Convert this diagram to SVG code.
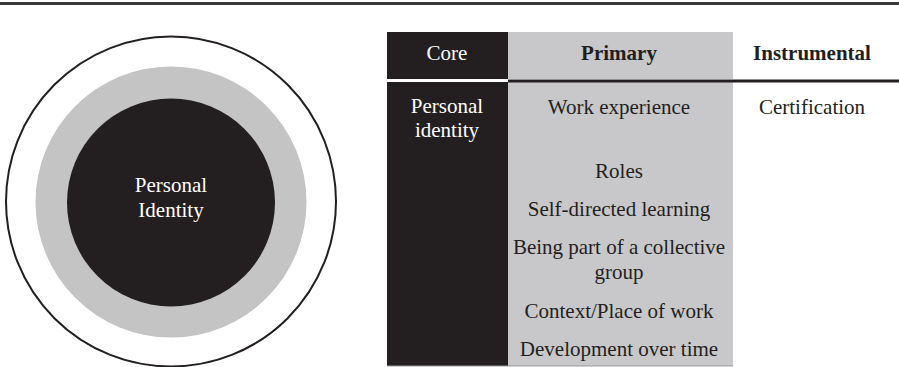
<svg xmlns="http://www.w3.org/2000/svg" width="899" height="367" viewBox="0 0 899 367">
<style>
.t{font-family:"Liberation Serif","Times New Roman",serif;font-size:21px;text-anchor:middle;fill:#231f20}
.w{fill:#ffffff}
.b{font-weight:bold}
</style>
<rect x="0" y="0" width="899" height="367" fill="#ffffff"/>
<rect x="0" y="2" width="899" height="3" fill="#3a3a3a"/>
<g id="circles">
<circle cx="171" cy="201.5" r="165" fill="#ffffff" stroke="#231f20" stroke-width="2"/>
<circle cx="171" cy="202" r="135.5" fill="#c4c4c4"/>
<circle cx="171" cy="202.5" r="104" fill="#231f20"/>
<text class="t w" x="171" y="192">Personal</text>
<text class="t w" x="171" y="217">Identity</text>
</g>
<g id="table">
<rect x="387" y="32" width="121" height="47" fill="#231f20"/>
<rect x="508" y="32" width="225" height="47" fill="#c8c8ca"/>
<rect x="387" y="82" width="121" height="284" fill="#231f20"/>
<rect x="508" y="82" width="225" height="284" fill="#c8c8ca"/>
<rect x="508" y="79.5" width="391" height="3" fill="#231f20"/>
<rect x="387" y="365.5" width="346" height="1" fill="#9a9a9a"/>
<text class="t w" x="447" y="60">Core</text>
<text class="t b" x="619" y="60">Primary</text>
<text class="t b" x="812" y="60">Instrumental</text>
<text class="t w" x="447" y="113">Personal</text>
<text class="t w" x="447" y="137">identity</text>
<text class="t" x="619" y="114">Work experience</text>
<text class="t" x="812" y="114">Certification</text>
<text class="t" x="619" y="178">Roles</text>
<text class="t" x="619" y="216">Self-directed learning</text>
<text class="t" x="619" y="254">Being part of a collective</text>
<text class="t" x="619" y="279">group</text>
<text class="t" x="619" y="318">Context/Place of work</text>
<text class="t" x="619" y="356">Development over time</text>
</g>
</svg>
